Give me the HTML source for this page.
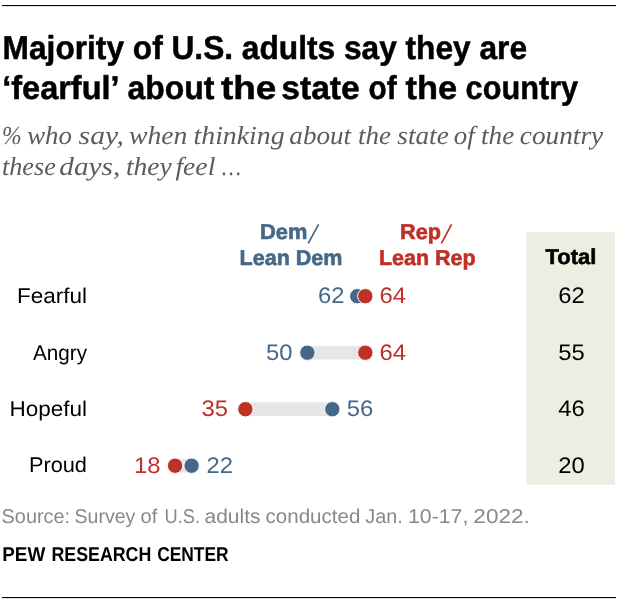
<!DOCTYPE html>
<html><head><meta charset="utf-8">
<style>
html,body{margin:0;padding:0;background:#fff;width:620px;height:600px;overflow:hidden}
svg{display:block;text-rendering:geometricPrecision;will-change:transform}
.s{font-family:"Liberation Sans",sans-serif}
.sf{font-family:"Liberation Serif",serif;font-style:italic}
</style></head><body>
<svg width="620" height="600" viewBox="0 0 620 600">
<rect x="2" y="5" width="614" height="1.1" fill="#000"/>
<rect x="2" y="597" width="614" height="1.1" fill="#000"/>
<g class="s" font-weight="bold" font-size="33" fill="#000" stroke="#000" stroke-width="0.5">
<text x="2.6" y="59" textLength="524.4" lengthAdjust="spacingAndGlyphs">Majority of U.S. adults say they are</text>
<text x="2.23" y="98.6" textLength="117.34" lengthAdjust="spacingAndGlyphs">‘fearful’</text><text x="127.43" y="98.6" textLength="86.9" lengthAdjust="spacingAndGlyphs">about</text><text x="221.0" y="98.6" textLength="55.36" lengthAdjust="spacingAndGlyphs">the</text><text x="281.28" y="98.6" textLength="78.49" lengthAdjust="spacingAndGlyphs">state</text><text x="368.5" y="98.6" textLength="28.14" lengthAdjust="spacingAndGlyphs">of</text><text x="405.5" y="98.6" textLength="51.52" lengthAdjust="spacingAndGlyphs">the</text><text x="465.57" y="98.6" textLength="112.65" lengthAdjust="spacingAndGlyphs">country</text>
</g>
<g class="sf" font-size="26" fill="#5c5c5c">
<text x="2.09" y="143.9" textLength="19.62" lengthAdjust="spacingAndGlyphs">%</text><text x="27.17" y="143.9" textLength="44.79" lengthAdjust="spacingAndGlyphs">who</text><text x="78.6" y="143.9" textLength="45.38" lengthAdjust="spacingAndGlyphs">say,</text><text x="129.04" y="143.9" textLength="58.41" lengthAdjust="spacingAndGlyphs">when</text><text x="193.53" y="143.9" textLength="91.07" lengthAdjust="spacingAndGlyphs">thinking</text><text x="289.36" y="143.9" textLength="61.74" lengthAdjust="spacingAndGlyphs">about</text><text x="357.96" y="143.9" textLength="33.04" lengthAdjust="spacingAndGlyphs">the</text><text x="397.3" y="143.9" textLength="51.51" lengthAdjust="spacingAndGlyphs">state</text><text x="453.77" y="143.9" textLength="20.88" lengthAdjust="spacingAndGlyphs">of</text><text x="481.05" y="143.9" textLength="33.25" lengthAdjust="spacingAndGlyphs">the</text><text x="519.85" y="143.9" textLength="83.24" lengthAdjust="spacingAndGlyphs">country</text>
<text x="1.99" y="175" textLength="53.83" lengthAdjust="spacingAndGlyphs">these</text><text x="59.38" y="175" textLength="60.94" lengthAdjust="spacingAndGlyphs">days,</text><text x="125.94" y="175" textLength="45.79" lengthAdjust="spacingAndGlyphs">they</text><text x="175.4" y="175" textLength="39.97" lengthAdjust="spacingAndGlyphs">feel</text><text x="221.98" y="175" textLength="18.94" lengthAdjust="spacingAndGlyphs">…</text>
</g>
<rect x="526.5" y="232" width="88.5" height="252.7" fill="#eeede2"/>
<g class="s" font-weight="bold" font-size="21.5" stroke-width="0.6" text-anchor="middle">
<text x="260" y="239.4" text-anchor="start" fill="#456888" stroke="#456888" textLength="47.4" lengthAdjust="spacingAndGlyphs">Dem</text>
<line x1="318.6" y1="224.3" x2="308.2" y2="243.3" stroke="#456888" stroke-width="1.7"/>
<text x="291" y="264.9" fill="#456888" stroke="#456888" textLength="103" lengthAdjust="spacingAndGlyphs">Lean Dem</text>
<text x="400" y="239.4" text-anchor="start" fill="#bf3026" stroke="#bf3026" textLength="40.9" lengthAdjust="spacingAndGlyphs">Rep</text>
<line x1="451.6" y1="224.3" x2="441.4" y2="243.3" stroke="#bf3026" stroke-width="1.7"/>
<text x="427.3" y="264.9" fill="#bf3026" stroke="#bf3026" textLength="96.6" lengthAdjust="spacingAndGlyphs">Lean Rep</text>
<text x="571" y="264.4" fill="#000" stroke="#000" textLength="50.8" lengthAdjust="spacingAndGlyphs">Total</text>
</g>
<g class="s" font-size="21.3" fill="#000" text-anchor="end">
<text x="87" y="302.8" textLength="70" lengthAdjust="spacingAndGlyphs">Fearful</text>
<text x="87" y="359.6" textLength="54" lengthAdjust="spacingAndGlyphs">Angry</text>
<text x="87" y="416" textLength="77.6" lengthAdjust="spacingAndGlyphs">Hopeful</text>
<text x="87" y="472.4" textLength="58.1" lengthAdjust="spacingAndGlyphs">Proud</text>
</g>
<g class="s" font-size="22.5" fill="#000" text-anchor="middle">
<text x="571.4" y="302.7" textLength="26.5" lengthAdjust="spacingAndGlyphs">62</text>
<text x="571.4" y="359.8" textLength="26.5" lengthAdjust="spacingAndGlyphs">55</text>
<text x="571.4" y="416.3" textLength="26.5" lengthAdjust="spacingAndGlyphs">46</text>
<text x="571.4" y="472.8" textLength="26.5" lengthAdjust="spacingAndGlyphs">20</text>
</g>
<g fill="#e6e6e6">
<rect x="357.2" y="289.4" width="8.1" height="13.6"/>
<rect x="307.5" y="345.9" width="57.9" height="13.6"/>
<rect x="245.4" y="402.4" width="86.9" height="13.6"/>
<rect x="175.1" y="458.9" width="16.5" height="13.6"/>
</g>
<g stroke="#fff" stroke-width="1">
<circle cx="357.3" cy="296.2" r="7.7" fill="#456888"/>
<circle cx="365.3" cy="296.2" r="7.7" fill="#bf3026"/>
<circle cx="307.4" cy="352.7" r="7.7" fill="#456888"/>
<circle cx="365.3" cy="352.7" r="7.7" fill="#bf3026"/>
<circle cx="245.4" cy="409.2" r="7.7" fill="#bf3026"/>
<circle cx="332.3" cy="409.2" r="7.7" fill="#456888"/>
<circle cx="175.1" cy="465.7" r="7.7" fill="#bf3026"/>
<circle cx="191.6" cy="465.7" r="7.7" fill="#456888"/>
</g>
<g class="s" font-size="22.5">
<text x="344.6" y="302.7" text-anchor="end" fill="#456888" textLength="26.5" lengthAdjust="spacingAndGlyphs">62</text>
<text x="379.6" y="302.7" fill="#bf3026" textLength="26.5" lengthAdjust="spacingAndGlyphs">64</text>
<text x="292.4" y="359.8" text-anchor="end" fill="#456888" textLength="26.5" lengthAdjust="spacingAndGlyphs">50</text>
<text x="379.6" y="359.8" fill="#bf3026" textLength="26.5" lengthAdjust="spacingAndGlyphs">64</text>
<text x="228" y="416.3" text-anchor="end" fill="#bf3026" textLength="26.5" lengthAdjust="spacingAndGlyphs">35</text>
<text x="346.8" y="416.3" fill="#456888" textLength="26.5" lengthAdjust="spacingAndGlyphs">56</text>
<text x="160.6" y="472.8" text-anchor="end" fill="#bf3026" textLength="26.5" lengthAdjust="spacingAndGlyphs">18</text>
<text x="206.6" y="472.8" fill="#456888" textLength="26.5" lengthAdjust="spacingAndGlyphs">22</text>
</g>
<g class="s">
<g font-size="20" fill="#888"><text x="1.61" y="522.8" textLength="68.52" lengthAdjust="spacingAndGlyphs">Source:</text><text x="74.52" y="522.8" textLength="60.82" lengthAdjust="spacingAndGlyphs">Survey</text><text x="140.6" y="522.8" textLength="16.69" lengthAdjust="spacingAndGlyphs">of</text><text x="164.59" y="522.8" textLength="35.45" lengthAdjust="spacingAndGlyphs">U.S.</text><text x="204.55" y="522.8" textLength="55.94" lengthAdjust="spacingAndGlyphs">adults</text><text x="265.57" y="522.8" textLength="94.76" lengthAdjust="spacingAndGlyphs">conducted</text><text x="365.31" y="522.8" textLength="37.6" lengthAdjust="spacingAndGlyphs">Jan.</text><text x="408.04" y="522.8" textLength="60.29" lengthAdjust="spacingAndGlyphs">10-17,</text><text x="473.37" y="522.8" textLength="56.45" lengthAdjust="spacingAndGlyphs">2022.</text></g>
<g font-size="20" font-weight="bold" fill="#000"><text x="2.15" y="561" textLength="43.13" lengthAdjust="spacingAndGlyphs">PEW</text><text x="51.41" y="561" textLength="99.9" lengthAdjust="spacingAndGlyphs">RESEARCH</text><text x="157.13" y="561" textLength="71.47" lengthAdjust="spacingAndGlyphs">CENTER</text></g>
</g>
</svg>
</body></html>
